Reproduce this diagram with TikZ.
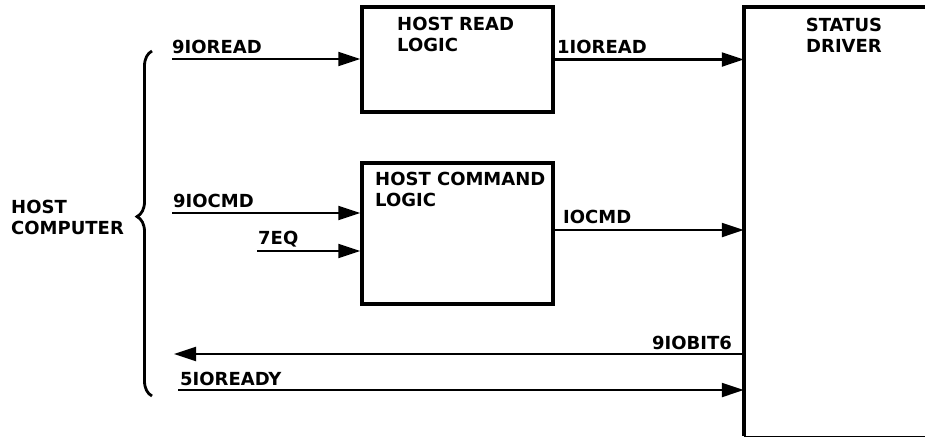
\documentclass[tikz,border=0pt]{standalone}
\usepackage{fontspec}
\setsansfont{DejaVu Sans}
\usetikzlibrary{arrows.meta,decorations.pathreplacing}

\begin{document}
\begin{tikzpicture}
    [x=1pt,y=-1pt,
     block/.style={rectangle,draw=black,line width=3.5pt,minimum width=191pt,inner sep=0pt},
     sig/.style={line width=2.2pt,-{Triangle[length=22pt,width=14pt]}},
     txt/.style={font=\sffamily\bfseries\fontsize{18}{21}\selectfont,inner sep=0pt,align=left}]
    \useasboundingbox (0,0) rectangle (925,437);
    \node (readlogic) at (457.5,59.5)  [block,minimum height=105pt] {};
    \node (cmdlogic)  at (457.5,233.5) [block,minimum height=141pt] {};
    \node (status)    at (834.5,221.5) [minimum width=181pt,minimum height=429pt,inner sep=0pt] {};
    \draw [line width=3.5pt] (status.north east) -- (status.north west) -- (status.south west);
    \draw [line width=1.2pt] (status.south west) -- (status.south east);
    \node (readtxt)   at (397,17)  [txt,anchor=north west] {HOST READ\\LOGIC};
    \node (cmdtxt)    at (375,172) [txt,anchor=north west] {HOST COMMAND\\LOGIC};
    \node (statustxt) at (844,18)  [txt,anchor=north,align=center] {STATUS\\DRIVER};
    \node (hosttxt)   at (11,200)  [txt,anchor=north west] {HOST\\COMPUTER};
    \coordinate (readin)  at (172,59);
    \coordinate (cmdin)   at (172,213);
    \coordinate (eqin)    at (257,251);
    \coordinate (bitout)  at (174,354);
    \coordinate (readyin) at (178,390);
    \coordinate (bracetop) at (152,51);
    \coordinate (bracebot) at (152,396);
    \draw [line width=2.8pt,decorate,decoration={brace,amplitude=15pt,aspect=0.52}] (bracebot) -- (bracetop);
    \draw [sig] (readin) -- (readin -| readlogic.west);
    \draw [sig] (readlogic.east) -- (readlogic.east -| status.west);
    \draw [sig] (cmdin) -- (cmdin -| cmdlogic.west);
    \draw [sig] (eqin) -- (eqin -| cmdlogic.west);
    \draw [sig] ([yshift=3.5pt]cmdlogic.east) -- ([yshift=3.5pt]cmdlogic.east -| status.west);
    \draw [sig] (status.west |- bitout) -- (bitout);
    \draw [sig] (readyin) -- (readyin -| status.west);
    \node (readinlbl)  at (172,53)  [txt,anchor=base west] {9IOREAD};
    \node (readoutlbl) at (557,53)  [txt,anchor=base west] {1IOREAD};
    \node (cmdinlbl)   at (173,207) [txt,anchor=base west] {9IOCMD};
    \node (eqinlbl)    at (258,244) [txt,anchor=base west] {7EQ};
    \node (cmdoutlbl)  at (563,223) [txt,anchor=base west] {IOCMD};
    \node (bitlbl)     at (732,349) [txt,anchor=base east] {9IOBIT6};
    \node (readylbl)   at (180,385) [txt,anchor=base west] {5IOREADY};
\end{tikzpicture}
\end{document}
